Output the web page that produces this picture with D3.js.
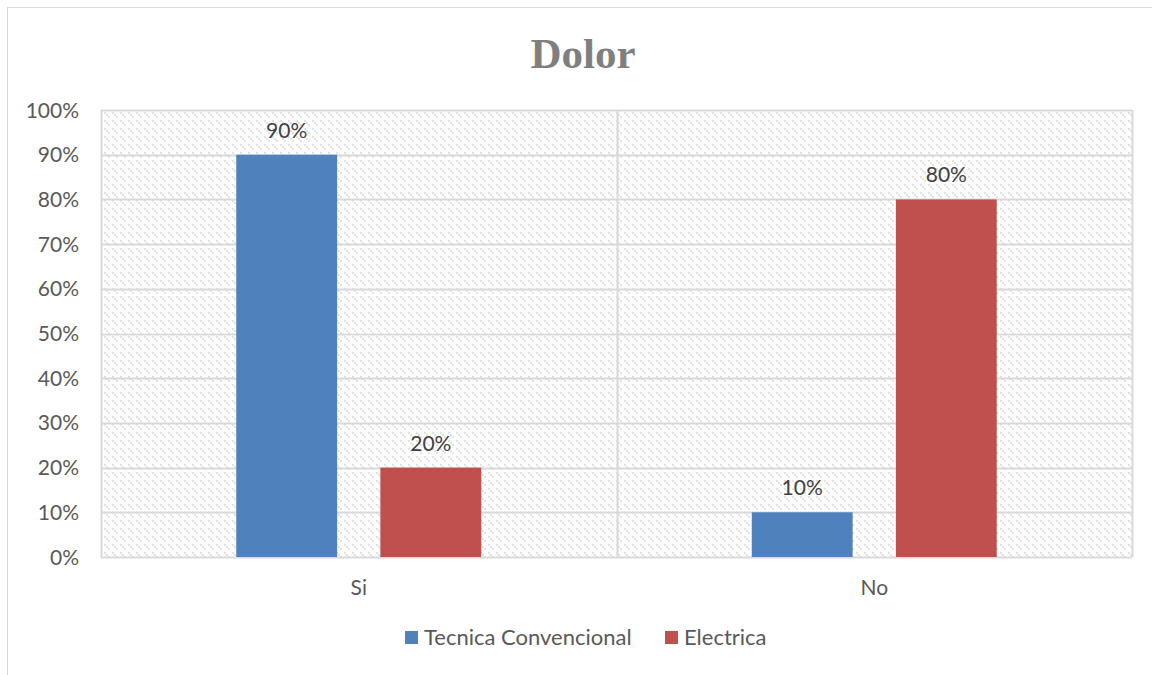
<!DOCTYPE html>
<html>
<head>
<meta charset="UTF-8">
<script src="https://d3js.org/d3.v7.min.js"></script>
<style>
  body { margin: 0; background: #fff; }
  text { font-family: Lato, "Open Sans", sans-serif; fill: #595959; }
</style>
</head>
<body>
<div id="chart"></div>
<script>
var categories = ["Si", "No"];
var seriesNames = ["Tecnica Convencional", "Electrica"];
var tecnica = [0.9, 0.1];
var electrica = [0.2, 0.8];
var yTicks = [0, 0.1, 0.2, 0.3, 0.4, 0.5, 0.6, 0.7, 0.8, 0.9, 1.0];
var colors = ["#4f81bd", "#c0504d"];

var width = 1152, height = 675;
var margin = {left: 101, right: 20, top: 110, bottom: 118};

var svg = d3.select("#chart").append("svg")
    .attr("width", width).attr("height", height);

// hatch pattern
var defs = svg.append("defs");
var pat = defs.append("pattern")
    .attr("id", "hatch")
    .attr("patternUnits", "userSpaceOnUse")
    .attr("width", 8).attr("height", 8);
pat.append("rect").attr("width", 8).attr("height", 8).attr("fill", "#fff");
[[0,0],[2,2],[4,4]].forEach(function(p) {
    pat.append("rect").attr("x", p[0]).attr("y", p[1])
        .attr("width", 2).attr("height", 2).attr("fill", "#e2e2e2");
});

// outer chart border
svg.append("rect")
    .attr("x", 7.5).attr("y", 7.5)
    .attr("width", 1160).attr("height", 700)
    .attr("fill", "none").attr("stroke", "#d9d9d9");

var x0 = d3.scaleBand().domain(categories)
    .range([margin.left, width - margin.right]);
var x1 = d3.scaleBand().domain(seriesNames)
    .range([0, 245]).paddingInner(0.3);
var y = d3.scaleLinear().domain([0, 1])
    .range([height - margin.bottom, margin.top]);

// plot area
svg.append("rect")
    .attr("x", margin.left).attr("y", margin.top)
    .attr("width", width - margin.right - margin.left)
    .attr("height", y(0) - y(1))
    .attr("fill", "url(#hatch)");

// gridlines
svg.append("g").selectAll("line").data(yTicks).join("line")
    .attr("x1", margin.left).attr("x2", width - margin.right)
    .attr("y1", d => Math.round(y(d)) + 0.5).attr("y2", d => Math.round(y(d)) + 0.5)
    .attr("stroke", "#d9d9d9").attr("stroke-width", 2);

// vertical category separators
svg.append("g").selectAll("line").data([margin.left, x0("No"), width - margin.right]).join("line")
    .attr("x1", d => Math.round(d) + 0.5).attr("x2", d => Math.round(d) + 0.5)
    .attr("y1", y(1)).attr("y2", y(0))
    .attr("stroke", "#d9d9d9").attr("stroke-width", 2);

// bars
var data = categories.map(function(c, i) {
    return [{cat: c, s: seriesNames[0], v: tecnica[i], c: colors[0]},
            {cat: c, s: seriesNames[1], v: electrica[i], c: colors[1]}];
}).flat();

var offset = (x0.bandwidth() - 245) / 2;
svg.append("g").selectAll("rect").data(data).join("rect")
    .attr("x", d => x0(d.cat) + offset + x1(d.s))
    .attr("y", d => y(d.v))
    .attr("width", x1.bandwidth())
    .attr("height", d => y(0) - y(d.v))
    .attr("fill", d => d.c);

// data labels
svg.append("g").selectAll("text").data(data).join("text")
    .attr("x", d => x0(d.cat) + offset + x1(d.s) + x1.bandwidth() / 2)
    .attr("y", d => y(d.v) - 17)
    .attr("text-anchor", "middle")
    .attr("font-size", 21)
    .style("fill", "#404040")
    .text(d => d3.format(".0%")(d.v));

// y axis labels
svg.append("g").selectAll("text").data(yTicks).join("text")
    .attr("x", 79).attr("y", d => y(d) + 7.5)
    .attr("text-anchor", "end")
    .attr("font-size", 21)
    .text(d => d3.format(".0%")(d));

// x axis labels
svg.append("g").selectAll("text").data(categories).join("text")
    .attr("x", d => x0(d) + x0.bandwidth() / 2)
    .attr("y", 595)
    .attr("text-anchor", "middle")
    .attr("font-size", 21)
    .text(d => d);

// title
svg.append("text")
    .attr("x", 583).attr("y", 68)
    .attr("text-anchor", "middle")
    .attr("font-size", 43)
    .attr("font-weight", "bold")
    .style("font-family", "'Liberation Serif', 'DejaVu Serif', serif")
    .style("fill", "#7f7f7f")
    .text("Dolor");

// legend
var legendX = [405, 665];
var lg = svg.append("g").selectAll("g").data(seriesNames).join("g")
    .attr("transform", (d, i) => "translate(" + legendX[i] + ",631)");
lg.append("rect").attr("width", 13).attr("height", 13)
    .attr("fill", (d, i) => colors[i]);
lg.append("text").attr("x", 19).attr("y", 14)
    .attr("font-size", 22)
    .text(d => d);
</script>
</body>
</html>
